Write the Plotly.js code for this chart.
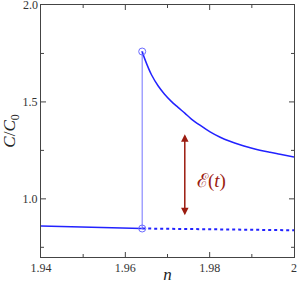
<!DOCTYPE html>
<html>
<head>
<meta charset="utf-8">
<script src="https://cdn.plot.ly/plotly-3.0.1.min.js"></script>
<style>html,body{margin:0;padding:0;background:#fff;}#chart{width:299px;height:284px;}</style>
</head>
<body>
<div id="chart"></div>
<script>
// Left branch (before the jump)
const leftN = [1.94, 1.964];
const leftC = [0.860, 0.847];
// Vertical jump
const jumpN = [1.964, 1.964];
const jumpC = [0.847, 1.760];
// Decaying branch after the jump
const curveN = [1.9640, 1.9646, 1.9662, 1.9678, 1.9693, 1.9709, 1.9725, 1.9741, 1.9756,
                1.9777, 1.9801, 1.9825, 1.9848, 1.9872, 1.9896, 1.9919, 1.9943, 1.9967, 2.0];
const curveC = [1.760, 1.722, 1.640, 1.582, 1.540, 1.503, 1.472, 1.442, 1.413,
                1.380, 1.346, 1.318, 1.297, 1.279, 1.264, 1.251, 1.240, 1.230, 1.216];
// Dotted continuation
const dotN = [1.964, 2.0];
const dotC = [0.847, 0.838];
// Markers
const markN = [1.964, 1.964];
const markC = [1.760, 0.847];
// Arrow E(t)
const arrowN = 1.9741;
const arrowTop = 1.333;
const arrowBottom = 0.908;
const arrowLabel = "ℰ(<i>t</i>)";
const labelN = 1.9765;
const labelC = 1.09;
// Ticks
const xTickVals = [1.94, 1.96, 1.98, 2.0];
const xTickText = ["1.94", "1.96", "1.98", "2"];
const yTickVals = [1.0, 1.5, 2.0];
const yTickText = ["1.0", "1.5", "2.0"];
const xMajorMarks = [1.96, 1.98];
const xMinorMarks = [1.95, 1.97, 1.99];
const yMajorMarks = [1.0, 1.5];
const yMinorMarks = [0.75, 1.25, 1.75];

const serif = "Liberation Serif, Times New Roman, serif";
const axisColor = '#444';
const tickFont = {family: serif, size: 12, color: '#333'};
const traces = [
  {x: leftN, y: leftC, mode: 'lines', line: {color: '#2222ff', width: 1.5}, hoverinfo: 'skip'},
  {x: jumpN, y: jumpC, mode: 'lines', line: {color: '#8a8aff', width: 1.2}, hoverinfo: 'skip'},
  {x: curveN, y: curveC, mode: 'lines', line: {color: '#2222ff', width: 1.5, shape: 'spline', smoothing: 1}, hoverinfo: 'skip'},
  {x: dotN, y: dotC, mode: 'lines', line: {color: '#2222ff', width: 2, dash: 'dot'}, hoverinfo: 'skip'},
  {x: markN, y: markC, mode: 'markers', marker: {symbol: 'circle-open-dot', size: 7, color: '#6a6aff', line: {width: 1}}, hoverinfo: 'skip'}
];

// Tick marks drawn inside on all four sides (positions through the axes' scales)
const plotW = 299 - 41 - 5, plotH = 284 - 5 - 27;
const shapes = [];
function xMarks(vals, len) {
  vals.forEach(v => {
    shapes.push({type: 'line', xref: 'x', yref: 'paper', x0: v, x1: v, y0: 0, y1: len / plotH, line: {color: axisColor, width: 1}});
    shapes.push({type: 'line', xref: 'x', yref: 'paper', x0: v, x1: v, y0: 1, y1: 1 - len / plotH, line: {color: axisColor, width: 1}});
  });
}
function yMarks(vals, len) {
  vals.forEach(v => {
    shapes.push({type: 'line', xref: 'paper', yref: 'y', y0: v, y1: v, x0: 0, x1: len / plotW, line: {color: axisColor, width: 1}});
    shapes.push({type: 'line', xref: 'paper', yref: 'y', y0: v, y1: v, x0: 1, x1: 1 - len / plotW, line: {color: axisColor, width: 1}});
  });
}
xMarks(xMajorMarks, 5); xMarks(xMinorMarks, 3);
yMarks(yMajorMarks, 5); yMarks(yMinorMarks, 3);

function axis(extra) {
  return Object.assign({
    showgrid: false, zeroline: false, showline: true, linecolor: axisColor, linewidth: 1,
    mirror: true, ticks: '', ticklen: 0, tickfont: tickFont
  }, extra);
}

// The top y label sits on the frame edge; draw it as an annotation at its axis value
const nY = yTickVals.length;
const annotations = [
  {x: arrowN, y: arrowTop, ax: arrowN, ay: arrowBottom, xref: 'x', yref: 'y', axref: 'x', ayref: 'y',
   showarrow: true, arrowside: 'end+start', arrowhead: 2, arrowsize: 1, arrowwidth: 1.5, arrowcolor: '#9b1c10', text: ''},
  {x: labelN, y: labelC, xref: 'x', yref: 'y', text: arrowLabel, showarrow: false,
   font: {family: serif, size: 19, color: '#9b1c10'}, xanchor: 'left'},
  {x: 0, xref: 'paper', y: yTickVals[nY - 1], yref: 'y', text: yTickText[nY - 1], showarrow: false,
   xanchor: 'right', yanchor: 'middle', xshift: -1, font: tickFont}
];

const layout = {
  width: 299, height: 284,
  margin: {l: 41, r: 5, t: 5, b: 27},
  paper_bgcolor: '#fff', plot_bgcolor: '#fff',
  showlegend: false,
  shapes: shapes,
  xaxis: axis({
    range: [1.94, 2.0], tickmode: 'array', tickvals: xTickVals, ticktext: xTickText,
    title: {text: '<i>n</i>', font: {family: serif, size: 17, color: '#222'}, standoff: 2}
  }),
  yaxis: axis({
    range: [0.7, 2.0], tickmode: 'array', tickvals: yTickVals.slice(0, nY - 1), ticktext: yTickText.slice(0, nY - 1),
    title: {text: '<i>C</i>/<i>C</i><sub>0</sub>', font: {family: serif, size: 17, color: '#222'}, standoff: 5}
  }),
  annotations: annotations
};

Plotly.newPlot('chart', traces, layout, {staticPlot: true, displayModeBar: false});
</script>
</body>
</html>
